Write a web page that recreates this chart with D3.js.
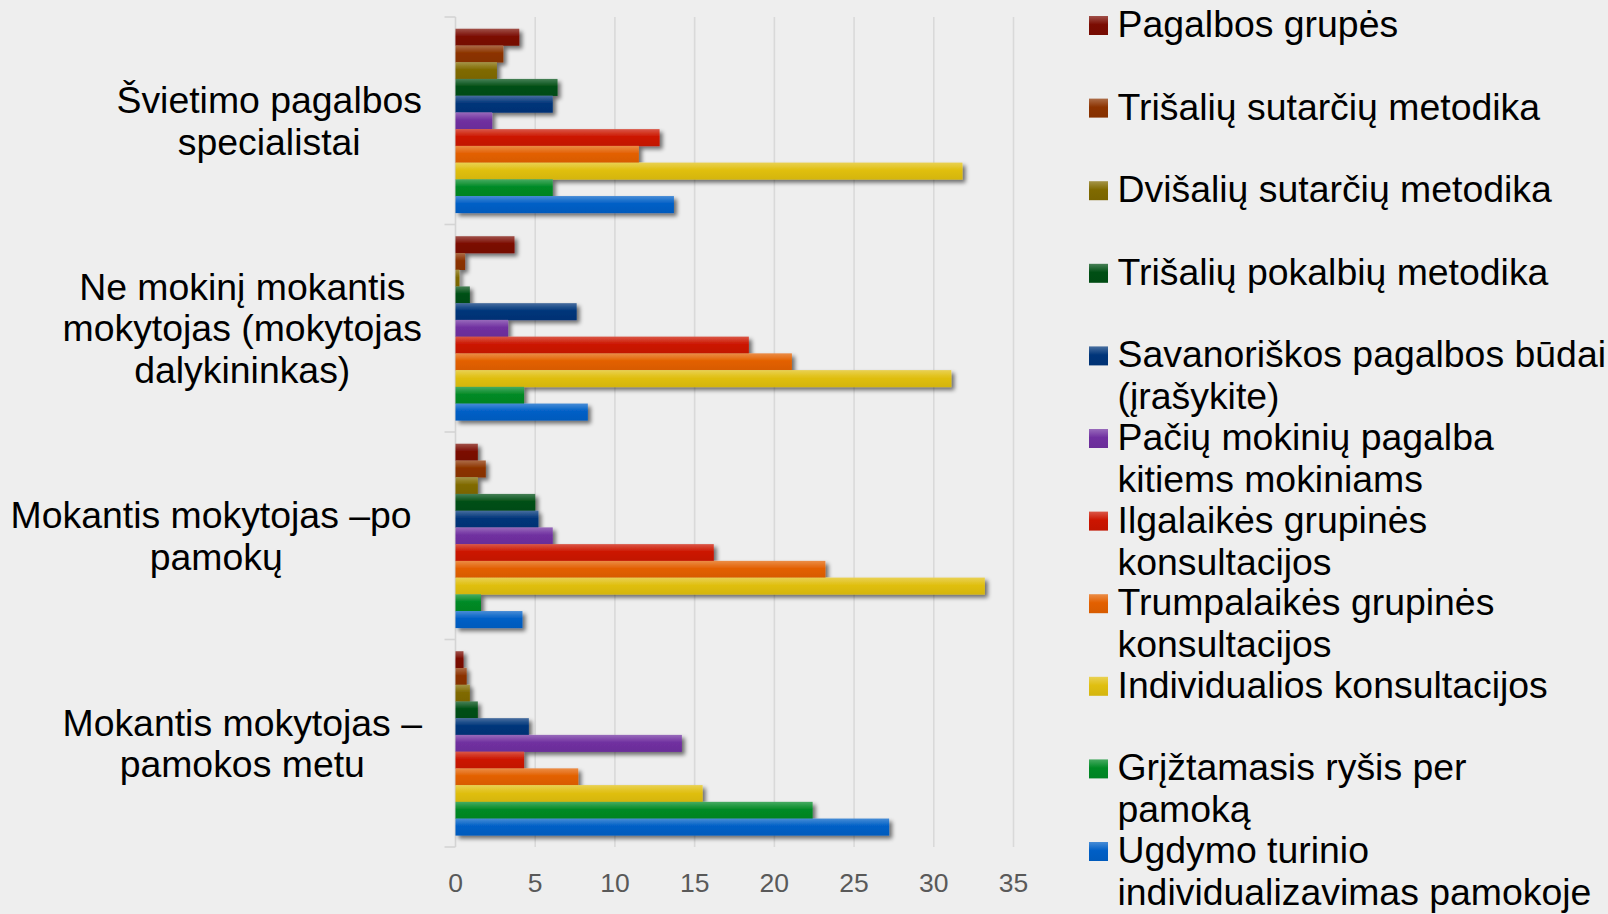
<!DOCTYPE html>
<html>
<head>
<meta charset="utf-8">
<script src="https://cdn.jsdelivr.net/npm/d3@7"></script>
<style>
  html, body { margin: 0; padding: 0; background: #eeeeee; }
  svg { display: block; font-family: "Liberation Sans", Arial, sans-serif; }
</style>
</head>
<body>
<div id="container"></div>
<script>
// Categories (top to bottom), "\n" marks the line breaks of the original labels
const categories = [
  "Švietimo pagalbos\nspecialistai",
  "Ne mokinį mokantis\nmokytojas (mokytojas\ndalykininkas)",
  "Mokantis mokytojas –po \npamokų",
  "Mokantis mokytojas –\npamokos metu"
];

// Series names (legend order = bar order inside each group, top to bottom)
const seriesNames = [
  "Pagalbos grupės",
  "Trišalių sutarčių metodika",
  "Dvišalių sutarčių metodika",
  "Trišalių pokalbių metodika",
  "Savanoriškos pagalbos būdai\n(įrašykite)",
  "Pačių mokinių pagalba\nkitiems mokiniams",
  "Ilgalaikės grupinės\nkonsultacijos",
  "Trumpalaikės grupinės\nkonsultacijos",
  "Individualios konsultacijos",
  "Grįžtamasis ryšis per\npamoką",
  "Ugdymo turinio\nindividualizavimas pamokoje"
];

const seriesColors = [
  "#7b0c02", "#8c3300", "#806a00", "#004f14", "#00357a", "#7030a0",
  "#cc1500", "#e36000", "#e0bf10", "#008a25", "#005fc6"
];

// Values per series, one per category (same order as categories)
const pagalbosGrupes      = [4.0, 3.7, 1.4, 0.5];
const trisaliuSutarciu    = [3.0, 0.6, 1.9, 0.7];
const dvisaliuSutarciu    = [2.6, 0.25, 1.4, 0.9];
const trisaliuPokalbiu    = [6.4, 0.9, 5.0, 1.4];
const savanoriskos        = [6.1, 7.6, 5.2, 4.6];
const paciuMokiniu        = [2.3, 3.3, 6.1, 14.2];
const ilgalaikes          = [12.8, 18.4, 16.2, 4.3];
const trumpalaikes        = [11.5, 21.1, 23.2, 7.7];
const individualios       = [31.8, 31.1, 33.2, 15.5];
const griztamasis         = [6.1, 4.3, 1.6, 22.4];
const ugdymoTurinio       = [13.7, 8.3, 4.2, 27.2];

const seriesValues = [
  pagalbosGrupes, trisaliuSutarciu, dvisaliuSutarciu, trisaliuPokalbiu,
  savanoriskos, paciuMokiniu, ilgalaikes, trumpalaikes, individualios,
  griztamasis, ugdymoTurinio
];

const xTicks = [0, 5, 10, 15, 20, 25, 30, 35];

// Define constants
const width = 1608,
  height = 914;
const plot = { left: 455.5, right: 1013.5, top: 17, bottom: 847 };
const fontSize = 37.4;
const labelFont = `${fontSize}px 'Liberation Sans', Arial, sans-serif`;

const svg = d3
  .select("div#container")
  .append("svg")
  .attr("width", width)
  .attr("height", height);

const defs = svg.append("defs");

// soft drop shadow under bars
const shadow = defs.append("filter")
  .attr("id", "shadow")
  .attr("x", "-10%").attr("y", "-40%")
  .attr("width", "130%").attr("height", "200%");
shadow.append("feGaussianBlur").attr("in", "SourceAlpha").attr("stdDeviation", 2.2);
shadow.append("feOffset").attr("dx", 3).attr("dy", 3).attr("result", "off");
shadow.append("feComponentTransfer").append("feFuncA").attr("type", "linear").attr("slope", 0.55);
const merge = shadow.append("feMerge");
merge.append("feMergeNode");
merge.append("feMergeNode").attr("in", "SourceGraphic");

// vertical gradient per series
seriesColors.forEach((c, i) => {
  const g = defs.append("linearGradient")
    .attr("id", `grad${i}`)
    .attr("x1", 0).attr("y1", 0).attr("x2", 0).attr("y2", 1);
  g.append("stop").attr("offset", "0%").attr("stop-color", d3.interpolateRgb(c, "#ffffff")(0.28));
  g.append("stop").attr("offset", "45%").attr("stop-color", c);
  g.append("stop").attr("offset", "100%").attr("stop-color", d3.color(c).darker(0.15));
});

// Set Scales
const x = d3.scaleLinear().domain([0, 35]).range([plot.left, plot.right]);
const y0 = d3.scaleBand().domain(categories).range([plot.top, plot.bottom]).padding(0);
const y1 = d3.scaleBand().domain(d3.range(seriesNames.length))
  .range([0, y0.bandwidth()]).paddingInner(0).paddingOuter(0.7);

// Gridlines
svg.append("g")
  .selectAll("line")
  .data(xTicks.slice(1))
  .join("line")
  .attr("x1", (d) => x(d)).attr("x2", (d) => x(d))
  .attr("y1", plot.top).attr("y2", plot.bottom)
  .attr("stroke", "#d9d9d9")
  .attr("stroke-width", 1.6);

// Category axis line with outer ticks
const yAxis = svg.append("g");
yAxis.append("line")
  .attr("x1", x(0)).attr("x2", x(0))
  .attr("y1", plot.top).attr("y2", plot.bottom)
  .attr("stroke", "#d4d4d4").attr("stroke-width", 1.6);
yAxis.selectAll("line.tick")
  .data(categories.map((c) => y0(c)).concat([plot.bottom]))
  .join("line")
  .attr("class", "tick")
  .attr("x1", x(0) - 11).attr("x2", x(0))
  .attr("y1", (d) => d).attr("y2", (d) => d)
  .attr("stroke", "#d4d4d4").attr("stroke-width", 1.6);

// Tick labels
svg.append("g")
  .selectAll("text")
  .data(xTicks)
  .join("text")
  .attr("x", (d) => x(d))
  .attr("y", 892)
  .attr("text-anchor", "middle")
  .attr("fill", "#595959")
  .style("font-size", "26.5px")
  .text((d) => d);

// Bars
const rows = [];
categories.forEach((c, ci) => {
  seriesValues.forEach((vals, si) => rows.push({ cat: c, s: si, v: vals[ci] }));
});

svg.append("g")
  .attr("filter", "url(#shadow)")
  .selectAll("rect")
  .data(rows)
  .join("rect")
  .attr("x", x(0))
  .attr("y", (d) => y0(d.cat) + y1(d.s))
  .attr("width", (d) => x(d.v) - x(0))
  .attr("height", y1.bandwidth() + 0.3)
  .attr("fill", (d) => `url(#grad${d.s})`);

// Category labels: each block centered on its widest line, right edge near the axis
const ctx = document.createElement("canvas").getContext("2d");
ctx.font = labelFont;
const lineGap = 41.5;
const catLabels = svg.append("g").style("font-size", `${fontSize}px`).attr("fill", "#000");
categories.forEach((c) => {
  const lines = c.split("\n");
  const maxW = d3.max(lines, (l) => ctx.measureText(l).width);
  const cx = 422 - maxW / 2;
  const cy = y0(c) + y0.bandwidth() / 2;
  catLabels.append("text")
    .attr("text-anchor", "middle")
    .selectAll("tspan")
    .data(lines)
    .join("tspan")
    .attr("x", (l) => cx - (ctx.measureText(l).width - ctx.measureText(l.trimEnd()).width) / 2)
    .attr("y", (l, i) => cy + (i - (lines.length - 1) / 2) * lineGap + 13)
    .text((l) => l.trimEnd());
});

// Legend
const legend = svg.append("g").style("font-size", `${fontSize}px`);
const legendStep = 82.6;
const item = legend.selectAll("g")
  .data(seriesNames)
  .join("g")
  .attr("transform", (d, i) => `translate(1089, ${37 + i * legendStep})`);
item.append("rect")
  .attr("x", 0).attr("y", -21)
  .attr("width", 19).attr("height", 19)
  .attr("fill", (d, i) => `url(#grad${i})`);
item.append("text")
  .attr("fill", "#000")
  .selectAll("tspan")
  .data((d) => d.split("\n"))
  .join("tspan")
  .attr("x", 28.5)
  .attr("y", (l, i) => i * 42)
  .text((l) => l);
</script>
</body>
</html>
